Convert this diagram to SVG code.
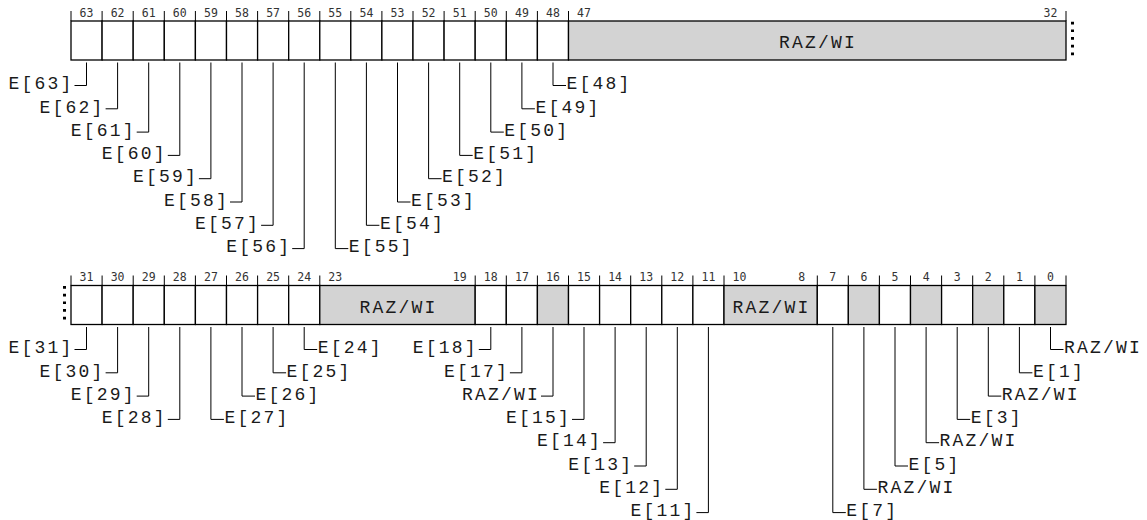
<svg xmlns="http://www.w3.org/2000/svg" width="1147" height="520" viewBox="0 0 1147 520">
<style>
.bg{fill:#fff}
.cell{fill:#fff;stroke:#000;stroke-width:1.3}
.raz{fill:#d3d3d3;stroke:#000;stroke-width:1.3}
.tick{stroke:#000;stroke-width:1}
.num{font-family:"DejaVu Sans Mono",monospace;font-size:11.5px;fill:#333;text-anchor:middle}
.lbl{font-family:"Liberation Mono","Courier New",monospace;font-size:18px;letter-spacing:2.2px;fill:#1a1a1a}
.l{text-anchor:end}
.r{text-anchor:start}
.fld{font-family:"Liberation Mono","Courier New",monospace;font-size:18px;letter-spacing:2.2px;fill:#1a1a1a;text-anchor:middle}
.lead{fill:none;stroke:#000;stroke-width:1}
.dots{stroke:#000;stroke-width:3;stroke-dasharray:2.7 5}
</style>
<rect class="bg" x="0" y="0" width="1147" height="520"/>

<g id="reg-high">
<g id="ticks-high">
<path class="tick" d="M71 11V21M102.1 11V21M133.2 11V21M164.3 11V21M195.4 11V21M226.5 11V21M257.6 11V21M288.7 11V21M319.8 11V21M350.8 11V21M381.9 11V21M413 11V21M444.1 11V21M475.2 11V21M506.3 11V21M537.4 11V21M568.5 11V21M1066 11V21"/>
</g>
<g id="nums-high">
<text class="num" x="86.5" y="16.5">63</text>
<text class="num" x="117.6" y="16.5">62</text>
<text class="num" x="148.7" y="16.5">61</text>
<text class="num" x="179.8" y="16.5">60</text>
<text class="num" x="210.9" y="16.5">59</text>
<text class="num" x="242" y="16.5">58</text>
<text class="num" x="273.1" y="16.5">57</text>
<text class="num" x="304.2" y="16.5">56</text>
<text class="num" x="335.3" y="16.5">55</text>
<text class="num" x="366.4" y="16.5">54</text>
<text class="num" x="397.5" y="16.5">53</text>
<text class="num" x="428.6" y="16.5">52</text>
<text class="num" x="459.7" y="16.5">51</text>
<text class="num" x="490.8" y="16.5">50</text>
<text class="num" x="521.9" y="16.5">49</text>
<text class="num" x="553" y="16.5">48</text>
<text class="num" x="584" y="16.5">47</text>
<text class="num" x="1050.5" y="16.5">32</text>
</g>
<g id="bit63"><rect class="cell" x="71" y="21" width="31.1" height="39"/></g>
<g id="bit62"><rect class="cell" x="102.1" y="21" width="31.1" height="39"/></g>
<g id="bit61"><rect class="cell" x="133.2" y="21" width="31.1" height="39"/></g>
<g id="bit60"><rect class="cell" x="164.3" y="21" width="31.1" height="39"/></g>
<g id="bit59"><rect class="cell" x="195.4" y="21" width="31.1" height="39"/></g>
<g id="bit58"><rect class="cell" x="226.5" y="21" width="31.1" height="39"/></g>
<g id="bit57"><rect class="cell" x="257.6" y="21" width="31.1" height="39"/></g>
<g id="bit56"><rect class="cell" x="288.7" y="21" width="31.1" height="39"/></g>
<g id="bit55"><rect class="cell" x="319.8" y="21" width="31.1" height="39"/></g>
<g id="bit54"><rect class="cell" x="350.8" y="21" width="31.1" height="39"/></g>
<g id="bit53"><rect class="cell" x="381.9" y="21" width="31.1" height="39"/></g>
<g id="bit52"><rect class="cell" x="413" y="21" width="31.1" height="39"/></g>
<g id="bit51"><rect class="cell" x="444.1" y="21" width="31.1" height="39"/></g>
<g id="bit50"><rect class="cell" x="475.2" y="21" width="31.1" height="39"/></g>
<g id="bit49"><rect class="cell" x="506.3" y="21" width="31.1" height="39"/></g>
<g id="bit48"><rect class="cell" x="537.4" y="21" width="31.1" height="39"/></g>
<g id="bits47-32"><rect class="raz" x="568.5" y="21" width="497.5" height="39"/><text class="fld" x="818" y="48">RAZ/WI</text></g>
<line class="dots" x1="1072.5" y1="21.7" x2="1072.5" y2="56"/>
</g>

<g id="reg-low">
<g id="ticks-low">
<path class="tick" d="M71 275.5V285.5M102.1 275.5V285.5M133.2 275.5V285.5M164.3 275.5V285.5M195.4 275.5V285.5M226.5 275.5V285.5M257.6 275.5V285.5M288.7 275.5V285.5M319.8 275.5V285.5M475.2 275.5V285.5M506.3 275.5V285.5M537.4 275.5V285.5M568.5 275.5V285.5M599.6 275.5V285.5M630.7 275.5V285.5M661.8 275.5V285.5M692.9 275.5V285.5M724 275.5V285.5M817.3 275.5V285.5M848.3 275.5V285.5M879.4 275.5V285.5M910.5 275.5V285.5M941.6 275.5V285.5M972.7 275.5V285.5M1003.8 275.5V285.5M1034.9 275.5V285.5M1066 275.5V285.5"/>
</g>
<g id="nums-low">
<text class="num" x="86.5" y="281">31</text>
<text class="num" x="117.6" y="281">30</text>
<text class="num" x="148.7" y="281">29</text>
<text class="num" x="179.8" y="281">28</text>
<text class="num" x="210.9" y="281">27</text>
<text class="num" x="242" y="281">26</text>
<text class="num" x="273.1" y="281">25</text>
<text class="num" x="304.2" y="281">24</text>
<text class="num" x="335.3" y="281">23</text>
<text class="num" x="459.7" y="281">19</text>
<text class="num" x="490.8" y="281">18</text>
<text class="num" x="521.9" y="281">17</text>
<text class="num" x="553" y="281">16</text>
<text class="num" x="584" y="281">15</text>
<text class="num" x="615.1" y="281">14</text>
<text class="num" x="646.2" y="281">13</text>
<text class="num" x="677.3" y="281">12</text>
<text class="num" x="708.4" y="281">11</text>
<text class="num" x="739.5" y="281">10</text>
<text class="num" x="801.7" y="281">8</text>
<text class="num" x="832.8" y="281">7</text>
<text class="num" x="863.9" y="281">6</text>
<text class="num" x="895" y="281">5</text>
<text class="num" x="926.1" y="281">4</text>
<text class="num" x="957.2" y="281">3</text>
<text class="num" x="988.3" y="281">2</text>
<text class="num" x="1019.4" y="281">1</text>
<text class="num" x="1050.5" y="281">0</text>
</g>
<g id="bit31"><rect class="cell" x="71" y="285.5" width="31.1" height="39"/></g>
<g id="bit30"><rect class="cell" x="102.1" y="285.5" width="31.1" height="39"/></g>
<g id="bit29"><rect class="cell" x="133.2" y="285.5" width="31.1" height="39"/></g>
<g id="bit28"><rect class="cell" x="164.3" y="285.5" width="31.1" height="39"/></g>
<g id="bit27"><rect class="cell" x="195.4" y="285.5" width="31.1" height="39"/></g>
<g id="bit26"><rect class="cell" x="226.5" y="285.5" width="31.1" height="39"/></g>
<g id="bit25"><rect class="cell" x="257.6" y="285.5" width="31.1" height="39"/></g>
<g id="bit24"><rect class="cell" x="288.7" y="285.5" width="31.1" height="39"/></g>
<g id="bits23-19"><rect class="raz" x="319.8" y="285.5" width="155.4" height="39"/><text class="fld" x="398.5" y="312.5">RAZ/WI</text></g>
<g id="bit18"><rect class="cell" x="475.2" y="285.5" width="31.1" height="39"/></g>
<g id="bit17"><rect class="cell" x="506.3" y="285.5" width="31.1" height="39"/></g>
<g id="bit16"><rect class="raz" x="537.4" y="285.5" width="31.1" height="39"/></g>
<g id="bit15"><rect class="cell" x="568.5" y="285.5" width="31.1" height="39"/></g>
<g id="bit14"><rect class="cell" x="599.6" y="285.5" width="31.1" height="39"/></g>
<g id="bit13"><rect class="cell" x="630.7" y="285.5" width="31.1" height="39"/></g>
<g id="bit12"><rect class="cell" x="661.8" y="285.5" width="31.1" height="39"/></g>
<g id="bit11"><rect class="cell" x="692.9" y="285.5" width="31.1" height="39"/></g>
<g id="bits10-8"><rect class="raz" x="724" y="285.5" width="93.3" height="39"/><text class="fld" x="771.5" y="312.5">RAZ/WI</text></g>
<g id="bit7"><rect class="cell" x="817.3" y="285.5" width="31.1" height="39"/></g>
<g id="bit6"><rect class="raz" x="848.3" y="285.5" width="31.1" height="39"/></g>
<g id="bit5"><rect class="cell" x="879.4" y="285.5" width="31.1" height="39"/></g>
<g id="bit4"><rect class="raz" x="910.5" y="285.5" width="31.1" height="39"/></g>
<g id="bit3"><rect class="cell" x="941.6" y="285.5" width="31.1" height="39"/></g>
<g id="bit2"><rect class="raz" x="972.7" y="285.5" width="31.1" height="39"/></g>
<g id="bit1"><rect class="cell" x="1003.8" y="285.5" width="31.1" height="39"/></g>
<g id="bit0"><rect class="raz" x="1034.9" y="285.5" width="31.1" height="39"/></g>
<line class="dots" x1="64.5" y1="286" x2="64.5" y2="320"/>
</g>

<g id="connectors">
<path class="lead" d="M86.5 62.5V85.5H74.5"/>
<path class="lead" d="M117.6 62.5V108.8H105.6"/>
<path class="lead" d="M148.7 62.5V132.1H136.7"/>
<path class="lead" d="M179.8 62.5V155.4H167.8"/>
<path class="lead" d="M210.9 62.5V178.7H198.9"/>
<path class="lead" d="M242 62.5V202H230"/>
<path class="lead" d="M273.1 62.5V225.3H261.1"/>
<path class="lead" d="M304.2 62.5V248.6H292.2"/>
<path class="lead" d="M553 62.5V85.5H566"/>
<path class="lead" d="M521.9 62.5V108.8H534.9"/>
<path class="lead" d="M490.8 62.5V132.1H503.8"/>
<path class="lead" d="M459.7 62.5V155.4H472.7"/>
<path class="lead" d="M428.6 62.5V178.7H441.6"/>
<path class="lead" d="M397.5 62.5V202H410.5"/>
<path class="lead" d="M366.4 62.5V225.3H379.4"/>
<path class="lead" d="M335.3 62.5V248.6H348.3"/>

<path class="lead" d="M86.5 327V349.5H74.5"/>
<path class="lead" d="M117.6 327V372.8H105.6"/>
<path class="lead" d="M148.7 327V396.1H136.7"/>
<path class="lead" d="M179.8 327V419.4H167.8"/>
<path class="lead" d="M304.2 327V349.5H317.2"/>
<path class="lead" d="M273.1 327V372.8H286.1"/>
<path class="lead" d="M242 327V396.1H255"/>
<path class="lead" d="M210.9 327V419.4H223.9"/>
<path class="lead" d="M490.8 327V349.5H478.8"/>
<path class="lead" d="M521.9 327V372.8H509.9"/>
<path class="lead" d="M553 327V396.1H541"/>
<path class="lead" d="M584 327V419.4H572"/>
<path class="lead" d="M615.1 327V442.7H603.1"/>
<path class="lead" d="M646.2 327V466H634.2"/>
<path class="lead" d="M677.3 327V489.3H665.3"/>
<path class="lead" d="M708.4 327V512.6H696.4"/>
<path class="lead" d="M1050.5 327V349.5H1063.5"/>
<path class="lead" d="M1019.4 327V372.8H1032.4"/>
<path class="lead" d="M988.3 327V396.1H1001.3"/>
<path class="lead" d="M957.2 327V419.4H970.2"/>
<path class="lead" d="M926.1 327V442.7H939.1"/>
<path class="lead" d="M895 327V466H908"/>
<path class="lead" d="M863.9 327V489.3H876.9"/>
<path class="lead" d="M832.8 327V512.6H845.8"/>
</g>

<g id="labels">
<text class="lbl l" x="73.5" y="89.2">E[63]</text>
<text class="lbl l" x="104.6" y="112.5">E[62]</text>
<text class="lbl l" x="135.7" y="135.8">E[61]</text>
<text class="lbl l" x="166.8" y="159.1">E[60]</text>
<text class="lbl l" x="197.9" y="182.4">E[59]</text>
<text class="lbl l" x="229" y="205.7">E[58]</text>
<text class="lbl l" x="260.1" y="229">E[57]</text>
<text class="lbl l" x="291.2" y="252.3">E[56]</text>
<text class="lbl r" x="566.5" y="89.2">E[48]</text>
<text class="lbl r" x="535.4" y="112.5">E[49]</text>
<text class="lbl r" x="504.3" y="135.8">E[50]</text>
<text class="lbl r" x="473.2" y="159.1">E[51]</text>
<text class="lbl r" x="442.1" y="182.4">E[52]</text>
<text class="lbl r" x="411" y="205.7">E[53]</text>
<text class="lbl r" x="379.9" y="229">E[54]</text>
<text class="lbl r" x="348.8" y="252.3">E[55]</text>

<text class="lbl l" x="73.5" y="353.2">E[31]</text>
<text class="lbl l" x="104.6" y="376.5">E[30]</text>
<text class="lbl l" x="135.7" y="399.8">E[29]</text>
<text class="lbl l" x="166.8" y="423.1">E[28]</text>
<text class="lbl r" x="317.7" y="353.2">E[24]</text>
<text class="lbl r" x="286.6" y="376.5">E[25]</text>
<text class="lbl r" x="255.5" y="399.8">E[26]</text>
<text class="lbl r" x="224.4" y="423.1">E[27]</text>
<text class="lbl l" x="477.8" y="353.2">E[18]</text>
<text class="lbl l" x="508.9" y="376.5">E[17]</text>
<text class="lbl l" x="540" y="399.8">RAZ/WI</text>
<text class="lbl l" x="571" y="423.1">E[15]</text>
<text class="lbl l" x="602.1" y="446.4">E[14]</text>
<text class="lbl l" x="633.2" y="469.7">E[13]</text>
<text class="lbl l" x="664.3" y="493">E[12]</text>
<text class="lbl l" x="695.4" y="516.3">E[11]</text>
<text class="lbl r" x="1064" y="353.2">RAZ/WI</text>
<text class="lbl r" x="1032.9" y="376.5">E[1]</text>
<text class="lbl r" x="1001.8" y="399.8">RAZ/WI</text>
<text class="lbl r" x="970.7" y="423.1">E[3]</text>
<text class="lbl r" x="939.6" y="446.4">RAZ/WI</text>
<text class="lbl r" x="908.5" y="469.7">E[5]</text>
<text class="lbl r" x="877.4" y="493">RAZ/WI</text>
<text class="lbl r" x="846.3" y="516.3">E[7]</text>
</g>
</svg>
